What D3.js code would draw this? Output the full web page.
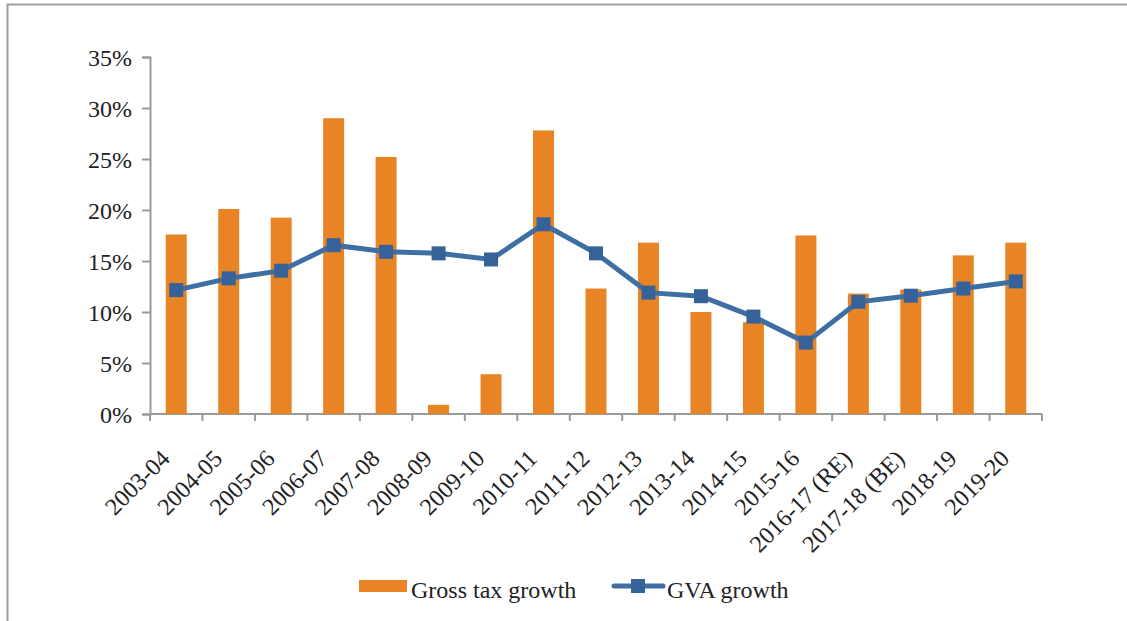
<!DOCTYPE html>
<html>
<head>
<meta charset="utf-8">
<script src="https://cdn.jsdelivr.net/npm/d3@7"></script>
<style>
  body { margin: 0; background: #fff; }
  svg text { font-family: "Liberation Serif", "DejaVu Serif", serif; fill: #222; }
</style>
</head>
<body>
<div id="chart"></div>
<script>
// data
var years = ['2003-04', '2004-05', '2005-06', '2006-07', '2007-08', '2008-09', '2009-10',
  '2010-11', '2011-12', '2012-13', '2013-14', '2014-15', '2015-16', '2016-17 (RE)',
  '2017-18 (BE)', '2018-19', '2019-20'];
var taxGrowth = [17.6, 20.1, 19.25, 29.0, 25.2, 0.9, 3.9, 27.8, 12.3, 16.8, 10.0, 9.0, 17.5, 11.8, 12.2, 15.55, 16.8];
var gvaGrowth = [12.15, 13.3, 14.05, 16.55, 15.9, 15.75, 15.15, 18.6, 15.75, 11.9, 11.55, 9.55, 7.0, 11.0, 11.6, 12.3, 13.0];
var yTicks = [0, 5, 10, 15, 20, 25, 30, 35];

var width = 1127, height = 621;
var orange = '#e98424', blue = '#3e6fa3';
var fontSize = '24px';

var svg = d3.select('#chart').append('svg')
  .attr('width', width)
  .attr('height', height);

// frame (only top and left edges show)
svg.append('rect')
  .attr('x', 7.5).attr('y', 4.5)
  .attr('width', width + 10).attr('height', height + 10)
  .attr('fill', 'none').attr('stroke', '#a0a0a0').attr('stroke-width', 2);

var x = d3.scaleBand().domain(years).range([150, 1042]).paddingInner(0.6).paddingOuter(0.3);
var y = d3.scaleLinear().domain([0, 35]).range([414, 57]);

// y axis
var yAxis = svg.append('g')
  .attr('transform', 'translate(150,0)')
  .call(d3.axisLeft(y).tickValues(yTicks).tickFormat(function(d) { return d + '%'; }).tickSize(8).tickPadding(10));
yAxis.selectAll('text').style('font-size', fontSize).attr('dy', '0.36em');

// x axis, ticks between categories
var step = x.step();
var xAxis = svg.append('g').attr('transform', 'translate(0,414)');
xAxis.append('line')
  .attr('x1', 150).attr('x2', 1042)
  .attr('y1', 0).attr('y2', 0);
xAxis.selectAll('.tk')
  .data(d3.range(years.length + 1))
  .enter().append('line')
  .attr('class', 'tk')
  .attr('x1', function(i) { return 150 + i * step; })
  .attr('x2', function(i) { return 150 + i * step; })
  .attr('y1', 0).attr('y2', 7);
svg.selectAll('.domain, .tick line, g line').attr('stroke', '#9a9a9a').attr('stroke-width', 2);

xAxis.selectAll('.xl')
  .data(years)
  .enter().append('text')
  .attr('class', 'xl')
  .attr('text-anchor', 'end')
  .style('font-size', fontSize)
  .attr('transform', function(d) {
    return 'translate(' + (x(d) + x.bandwidth() / 2 - 5) + ',46) rotate(-45)';
  })
  .text(function(d) { return d; });

// bars
svg.selectAll('.bar')
  .data(years)
  .enter().append('rect')
  .attr('class', 'bar')
  .attr('x', function(d) { return x(d); })
  .attr('width', x.bandwidth())
  .attr('y', function(d, i) { return y(taxGrowth[i]); })
  .attr('height', function(d, i) { return y(0) - y(taxGrowth[i]); })
  .attr('fill', orange);

// line
var line = d3.line()
  .x(function(d, i) { return x(years[i]) + x.bandwidth() / 2; })
  .y(function(d) { return y(d); });
svg.append('path')
  .datum(gvaGrowth)
  .attr('d', line)
  .attr('fill', 'none')
  .attr('stroke', blue)
  .attr('stroke-width', 5);
var sq = 14;
svg.selectAll('.mk')
  .data(gvaGrowth)
  .enter().append('rect')
  .attr('class', 'mk')
  .attr('x', function(d, i) { return x(years[i]) + x.bandwidth() / 2 - sq / 2; })
  .attr('y', function(d) { return y(d) - sq / 2; })
  .attr('width', sq).attr('height', sq)
  .attr('fill', '#366299');

// legend
var legend = svg.append('g');
legend.append('rect')
  .attr('x', 359).attr('y', 580).attr('width', 48).attr('height', 12)
  .attr('fill', orange);
legend.append('text')
  .attr('x', 411).attr('y', 598)
  .style('font-size', fontSize)
  .text('Gross tax growth');
legend.append('line')
  .attr('x1', 614).attr('x2', 663).attr('y1', 586).attr('y2', 586)
  .attr('stroke', blue).attr('stroke-width', 5).attr('stroke-linecap', 'round');
legend.append('rect')
  .attr('x', 631).attr('y', 579).attr('width', 14).attr('height', 14)
  .attr('fill', '#366299');
legend.append('text')
  .attr('x', 667).attr('y', 598)
  .style('font-size', fontSize)
  .text('GVA growth');
</script>
</body>
</html>
